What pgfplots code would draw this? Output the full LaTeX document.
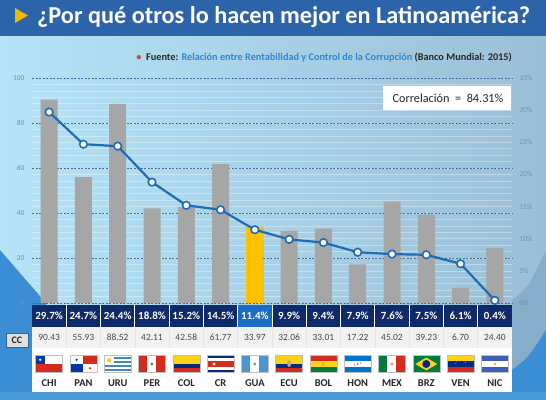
\documentclass[border=0pt]{standalone}
\usepackage{pgfplots}
\pgfplotsset{compat=1.18}
\usepackage{pgfplotstable}
\usepackage{fontspec}
\setmainfont{Carlito}
\definecolor{titleBlue}{HTML}{2C63A9}
\definecolor{bgL}{HTML}{B5E3F8}
\definecolor{bgR}{HTML}{9BBFD6}
\definecolor{gridBlue}{HTML}{3F6E9E}
\definecolor{tickGray}{HTML}{7F8C96}
\definecolor{barGray}{HTML}{A6A6A6}
\definecolor{guaYellow}{HTML}{FFC000}
\definecolor{lineBlue}{HTML}{1F6CB6}
\definecolor{navy}{HTML}{0E2A6A}
\definecolor{guaCell}{HTML}{1A6DC2}
\definecolor{ccRow}{HTML}{F2F2F2}
\definecolor{darkText}{HTML}{262626}
\definecolor{srcBlue}{HTML}{2E86D1}
\definecolor{srcRed}{HTML}{C0504D}
\definecolor{orangeT}{HTML}{F5B800}
\definecolor{decoBlue}{HTML}{3B8ED3}
\definecolor{decoBlue2}{HTML}{4A9AD8}
\definecolor{waveGray}{HTML}{86AECB}
\definecolor{flagRed}{HTML}{D52B1E}
\definecolor{flagBlue}{HTML}{0039A6}
\definecolor{flagNavy}{HTML}{002B7F}
\definecolor{flagYellow}{HTML}{FCD116}
\definecolor{flagGreen}{HTML}{007A3D}
\definecolor{skyBlue}{HTML}{4997D0}
\definecolor{honBlue}{HTML}{0073CF}
\definecolor{nicBlue}{HTML}{3E5EB9}

\pgfplotstableread{
x name cc rent
0 CHI 90.43 29.7
1 PAN 55.93 24.7
2 URU 88.52 24.4
3 PER 42.11 18.8
4 COL 42.58 15.2
5 CR 61.77 14.5
6 GUA 33.97 11.4
7 ECU 32.06 9.9
8 BOL 33.01 9.4
9 HON 17.22 7.9
10 MEX 45.02 7.6
11 BRZ 39.23 7.5
12 VEN 6.70 6.1
13 NIC 24.40 0.4
}\data

\newcommand{\flagat}[2]{\begin{scope}[shift={({49.14+34.2857*#1-13.5},27.5)}]#2\draw[black!25,line width=0.3bp](0,0)rectangle(27,17);\end{scope}}
\newcommand{\hthree}[3]{\fill[#1](0,11.333)rectangle(27,17);\fill[#2](0,5.667)rectangle(27,11.333);\fill[#3](0,0)rectangle(27,5.667);}
\newcommand{\vthree}[3]{\fill[#1](0,0)rectangle(9,17);\fill[#2](9,0)rectangle(18,17);\fill[#3](18,0)rectangle(27,17);}

\begin{document}
\begin{tikzpicture}
\begin{scope}[x=1bp,y=1bp]
% background
\shade[left color=bgL, right color=bgR] (0,0) rectangle (546,364);
\foreach \k in {1,...,34} \draw[white, opacity=0.35, line width=0.5bp] (32,{97+\k*6.428571}) -- (512,{97+\k*6.428571});
\fill[decoBlue] (0,150) -- (46,97) -- (46,0) -- (0,0) -- cycle;
\fill[waveGray] (512,100) .. controls (528,112) .. (546,150) -- (546,0) -- (512,0) -- cycle;
\fill[decoBlue] (512,30) .. controls (528,42) .. (546,70) -- (546,0) -- (512,0) -- cycle;
\fill[decoBlue2] (0,0) rectangle (546,8);
% title bar
\fill[titleBlue] (0,364) rectangle (546,400);
\fill[orangeT] (15,392) -- (15,377) -- (28,384.5) -- cycle;
\node[anchor=west, text=white, inner sep=0pt] at (37,382.5) {\resizebox{493bp}{!}{\bfseries\fontsize{23}{27}\selectfont ¿Por qué otros lo hacen mejor en Latinoamérica?}};
% source
\node[anchor=east, inner sep=0pt, font=\bfseries\fontsize{10.3}{12}\selectfont, text=darkText] at (512,343) {\textcolor{srcRed}{\textbullet}\ \ Fuente: \textcolor{srcBlue}{Relación entre Rentabilidad y Control de la Corrupción} (Banco Mundial: 2015)};
% correlation box
\fill[white] (383,290) rectangle (511,314);
\node[font=\fontsize{12.3}{14}\selectfont, text=darkText] at (448,302) {Correlación\ \ =\ \ 84.31\%};
% table
\fill[navy] (32,73) rectangle (512,95);
\fill[guaCell] (237.71,73) rectangle (272,95);
\foreach \k in {1,...,13} \draw[white, line width=1bp] ({32+\k*34.2857},73) -- ({32+\k*34.2857},95);
\fill[ccRow] (32,52) rectangle (512,73);
\foreach \k in {1,...,13} \draw[black!10, line width=0.5bp] ({32+\k*34.2857},52) -- ({32+\k*34.2857},73);
\fill[white] (32,8) rectangle (512,52);
\draw[fill=black!12, draw=titleBlue, line width=0.8bp] (6,53) rectangle (28,67);
\node[font=\bfseries\fontsize{10}{12}\selectfont, text=darkText] at (17,60) {CC};
% flags
\flagat{0}{\fill[flagRed](0,0)rectangle(27,8.5);\fill[white](0,8.5)rectangle(27,17);\fill[flagBlue](0,8.5)rectangle(9,17);\fill[white](4.5,12.75)circle(1.2);}
\flagat{1}{\fill[white](0,8.5)rectangle(13.5,17);\fill[flagRed](13.5,8.5)rectangle(27,17);\fill[flagBlue](0,0)rectangle(13.5,8.5);\fill[white](13.5,0)rectangle(27,8.5);\fill[flagBlue](6.75,12.75)circle(1.2);\fill[flagRed](20.25,4.25)circle(1.2);}
\flagat{2}{\fill[white](0,0)rectangle(27,17);\foreach \s in {1,3,5,7}{\fill[skyBlue!90!black](0,{17-(\s+1)*17/9})rectangle(27,{17-\s*17/9});}\fill[white](0,{17-5*17/9})rectangle(10,17);\fill[flagYellow](5,{17-2.5*17/9})circle(2.2);}
\flagat{3}{\vthree{flagRed}{white}{flagRed}\fill[flagGreen!60!brown](13.5,8.5)circle(1.5);}
\flagat{4}{\fill[flagYellow](0,8.5)rectangle(27,17);\fill[flagNavy](0,4.25)rectangle(27,8.5);\fill[flagRed](0,0)rectangle(27,4.25);}
\flagat{5}{\fill[flagNavy](0,0)rectangle(27,17);\fill[white](0,2.833)rectangle(27,14.167);\fill[flagRed](0,5.667)rectangle(27,11.333);\fill[white](7,8.5)circle(1.6);}
\flagat{6}{\vthree{skyBlue}{white}{skyBlue}\fill[flagGreen!70](13.5,8.5)circle(1.6);}
\flagat{7}{\fill[flagYellow](0,8.5)rectangle(27,17);\fill[flagNavy](0,4.25)rectangle(27,8.5);\fill[flagRed](0,0)rectangle(27,4.25);\fill[brown!70](13.5,9)ellipse(2 and 3.5);}
\flagat{8}{\hthree{flagRed}{flagYellow}{flagGreen}\fill[brown!70](13.5,8.5)circle(1.5);}
\flagat{9}{\hthree{honBlue}{white}{honBlue}\fill[honBlue](13.5,8.5)circle(0.8);\fill[honBlue](10.5,7.5)circle(0.6);\fill[honBlue](16.5,9.5)circle(0.6);}
\flagat{10}{\vthree{flagGreen}{white}{flagRed}\fill[brown!70](13.5,8.5)circle(1.8);}
\flagat{11}{\fill[flagGreen](0,0)rectangle(27,17);\fill[flagYellow](2.5,8.5)--(13.5,15)--(24.5,8.5)--(13.5,2)--cycle;\fill[flagNavy](13.5,8.5)circle(4);}
\flagat{12}{\hthree{flagYellow}{flagNavy}{flagRed}\draw[white,line width=0.6bp,dotted](8,9)arc(160:20:5.8);}
\flagat{13}{\hthree{nicBlue}{white}{nicBlue}\fill[flagYellow!60!brown](13.5,8.5)circle(1.3);}
\end{scope}

\begin{axis}[
  at={(32bp,97bp)}, anchor=south west, scale only axis,
  width=480bp, height=225bp,
  xmin=-0.5, xmax=13.5, ymin=0, ymax=100,
  xtick=\empty, ytick={0,20,...,100},
  axis line style={draw=none}, major tick length=0pt,
  ymajorgrids, grid style={dash pattern=on 2bp off 1.5bp, color=gridBlue, line width=0.5bp},
  yticklabel style={font=\fontsize{7.5}{9}\selectfont, text=tickGray, xshift=-4bp},
  /pgf/number format/assume math mode=true,
  clip=false,
]
\addplot[ybar, bar width=17bp, fill=barGray, draw=none] table[x=x,y=cc]{\data};
\addplot[ybar, bar width=17bp, fill=guaYellow, draw=none] coordinates {(6,33.97)};
\addplot[draw=none, mark=none, point meta=explicit,
  nodes near coords={\pgfmathprintnumber[fixed,fixed zerofill,precision=1]{\pgfplotspointmeta}\%},
  every node near coord/.append style={anchor=center, inner sep=0pt, font=\bfseries\fontsize{11}{12}\selectfont, text=white}]
  table[x=x, y expr=-5.8, meta=rent]{\data};
\addplot[draw=none, mark=none, point meta=explicit,
  nodes near coords={\pgfmathprintnumber[fixed,fixed zerofill,precision=2]{\pgfplotspointmeta}},
  every node near coord/.append style={anchor=center, inner sep=0pt, font=\fontsize{9.5}{11}\selectfont, text=darkText!85}]
  table[x=x, y expr=-15.3, meta=cc]{\data};
\addplot[draw=none, mark=none, point meta=explicit symbolic,
  nodes near coords,
  every node near coord/.append style={anchor=center, inner sep=0pt, font=\bfseries\fontsize{10.5}{12}\selectfont, text=darkText}]
  table[x=x, y expr=-35.6, meta=name]{\data};
\end{axis}

\begin{axis}[
  at={(32bp,97bp)}, anchor=south west, scale only axis,
  width=480bp, height=225bp,
  xmin=-0.5, xmax=13.5, ymin=0, ymax=35,
  hide x axis, axis y line*=right, axis line style={draw=none}, major tick length=0pt,
  ytick={0,5,...,35}, yticklabel={\pgfmathprintnumber{\tick}\%},
  yticklabel style={font=\fontsize{7.5}{9}\selectfont, text=tickGray, xshift=4bp},
  /pgf/number format/assume math mode=true,
  clip=false,
]
\addplot[lineBlue, line width=2.2bp, mark=*, mark size=3.8bp,
  mark options={fill=white, draw=lineBlue, line width=1.6bp}] table[x=x,y=rent]{\data};
\end{axis}
\pgfresetboundingbox
\path[use as bounding box] (0,0) rectangle (546bp,400bp);
\end{tikzpicture}
\end{document}
